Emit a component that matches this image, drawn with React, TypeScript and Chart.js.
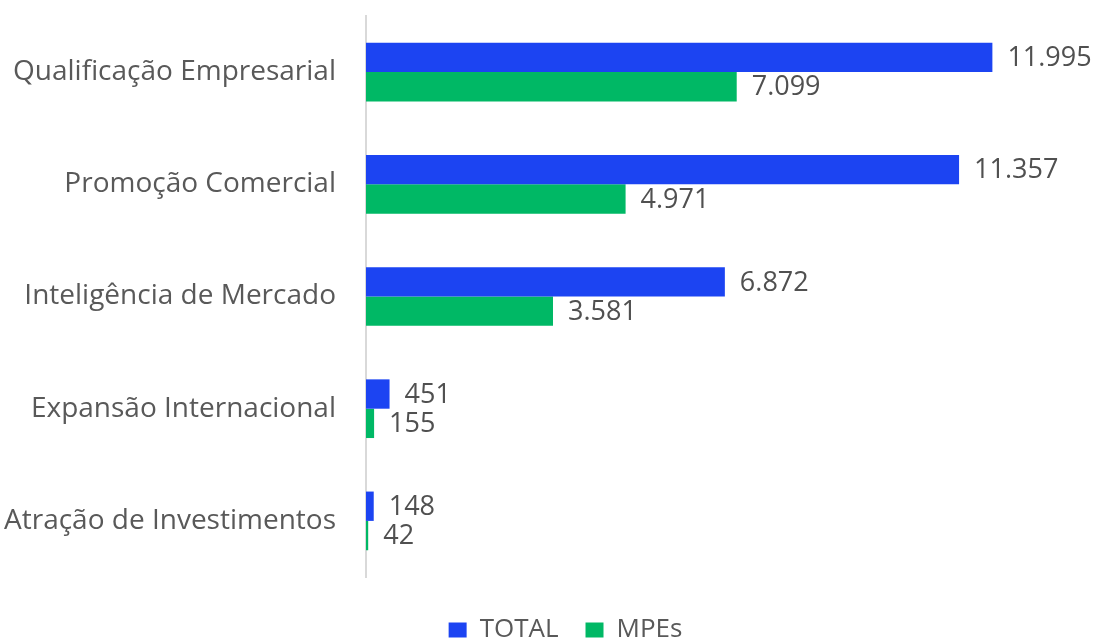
import React, { useEffect, useRef } from "react";
import { Chart, registerables } from "chart.js";

Chart.register(...registerables);

const categories = [
  "Qualificação Empresarial",
  "Promoção Comercial",
  "Inteligência de Mercado",
  "Expansão Internacional",
  "Atração de Investimentos",
];
const totalValues = [11995, 11357, 6872, 451, 148];
const mpeValues = [7099, 4971, 3581, 155, 42];
const seriesNames = ["TOTAL", "MPEs"];

const BLUE = "#1c44f2";
const GREEN = "#00b865";
const TEXT = "#595959";
const FONT = "'Open Sans', sans-serif";

const fmt = (v: number) => String(v).replace(/\B(?=(\d{3})+(?!\d))/g, ".");

const labelPlugin = {
  id: "barValueLabels",
  afterLayout(chart: any) {
    if (chart.legend) chart.legend.left += 36;
  },
  afterDatasetsDraw(chart: any) {
    const ctx = chart.ctx;
    ctx.save();
    ctx.fillStyle = "#505050";
    ctx.font = `27px ${FONT}`;
    ctx.textAlign = "left";
    ctx.textBaseline = "middle";
    chart.data.datasets.forEach((ds: any, i: number) => {
      const meta = chart.getDatasetMeta(i);
      meta.data.forEach((bar: any, j: number) => {
        ctx.fillText(fmt(ds.data[j]), bar.x + 15, bar.y + 1);
      });
    });
    ctx.restore();
  },
};

export default function App() {
  const ref = useRef<HTMLCanvasElement | null>(null);
  useEffect(() => {
    document.body.style.margin = "0";
    const canvas = ref.current!;
    const chart = new Chart(canvas, {
      type: "bar",
      data: {
        labels: categories,
        datasets: [
          { label: seriesNames[0], data: totalValues, backgroundColor: BLUE },
          { label: seriesNames[1], data: mpeValues, backgroundColor: GREEN },
        ],
      },
      options: {
        indexAxis: "y",
        animation: false,
        responsive: false,
        layout: { padding: { top: 16, right: 0, left: 0, bottom: 0 } },
        datasets: {
          bar: { barPercentage: 1, categoryPercentage: 0.523 },
        },
        scales: {
          x: {
            display: true,
            min: 0,
            max: 13960,
            ticks: { display: false },
            grid: { display: false, drawTicks: false },
            border: { display: false },
            afterFit: (s: any) => {
              s.height = 13;
              s.paddingLeft = 0;
              s.paddingRight = 0;
            },
          },
          y: {
            afterFit: (s: any) => {
              s.width = 366;
              s.paddingTop = 0;
              s.paddingBottom = 0;
            },
            grid: { display: false, drawTicks: false },
            border: { display: true, color: "#d9d9d9", width: 2 },
            ticks: {
              color: TEXT,
              padding: 30,
              font: { family: FONT, size: 28 },
            },
          },
        },
        plugins: {
          legend: {
            position: "bottom",
            labels: {
              color: TEXT,
              font: { family: FONT, size: 26 },
              boxWidth: 18,
              boxHeight: 15,
              padding: 27,
            },
          },
          tooltip: { enabled: false },
        },
      },
      plugins: [labelPlugin],
    });
    return () => chart.destroy();
  }, []);
  return (
    <div style={{ position: "absolute", left: 0, top: 0, width: 1095, height: 644, overflow: "hidden", background: "#fff" }}>
      <canvas ref={ref} width={1095} height={653} style={{ display: "block" }} />
    </div>
  );
}
